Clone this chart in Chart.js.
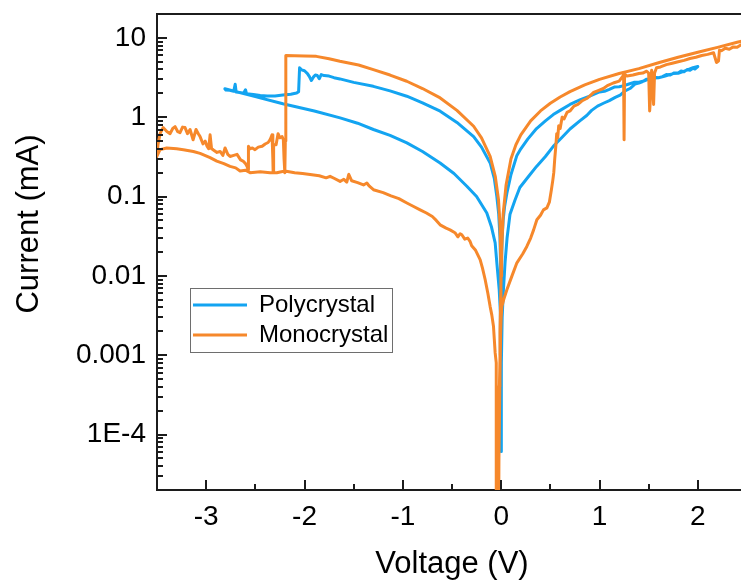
<!DOCTYPE html>
<html>
<head>
<meta charset="utf-8">
<script src="https://cdn.jsdelivr.net/npm/chart.js@4.4.0/dist/chart.umd.min.js"></script>
<style>
html,body{margin:0;padding:0;background:#fff;overflow:hidden;width:741px;height:585px;}
#wrap{position:absolute;left:0;top:0;width:760px;height:585px;}
</style>
</head>
<body>
<div id="wrap"><canvas id="c" width="760" height="585"></canvas></div>
<script>
// ---------------- data ----------------
const seriesNames = ['Polycrystal', 'Monocrystal'];
const xTitle = 'Voltage (V)';
const yTitle = 'Current (mA)';
const xTickValues = [-3, -2, -1, 0, 1, 2];
const xMinorValues = [-2.5, -1.5, -0.5, 0.5, 1.5];
const yTickValues = [1e-4, 1e-3, 1e-2, 1e-1, 1, 10];
const yTickLabels = ['1E-4', '0.001', '0.01', '0.1', '1', '10'];

// Polycrystal: voltage (V) and current (mA), in sweep order
const polyV = [
  0.000, 0.000, 0.001, 0.004, 0.010, 0.020, 0.035, 0.058, 0.10, 0.16, 0.20, 0.27, 0.36, 0.45, 0.53, 0.60, 0.70, 0.80, 0.90,
  1.00, 1.05, 1.10, 1.15, 1.20, 1.25, 1.30, 1.35, 1.40, 1.45, 1.50, 1.55, 1.60, 1.65, 1.70, 1.75, 1.80, 1.85, 1.90, 1.95, 2.00,
  1.97, 1.95, 1.92, 1.89, 1.86, 1.83, 1.80, 1.76, 1.72, 1.68, 1.64, 1.60, 1.56, 1.52, 1.48, 1.44, 1.40, 1.36, 1.31, 1.26, 1.21,
  1.16, 1.10, 1.04, 0.98, 0.92, 0.87, 0.80, 0.70, 0.62, 0.53, 0.45, 0.36, 0.28, 0.19, 0.14, 0.09, 0.06, 0.04, 0.023, 0.010, 0.002, 0.000,
  -0.002, -0.008, -0.020, -0.044, -0.061, -0.100, -0.146, -0.25, -0.349, -0.48, -0.621, -0.80, -0.959, -1.13, -1.299, -1.46, -1.638,
  -1.90, -2.22, -2.50, -2.81,
  -2.80, -2.76, -2.72, -2.705, -2.695, -2.66, -2.62, -2.60, -2.59, -2.52, -2.45, -2.38, -2.30, -2.22, -2.14, -2.08, -2.06,
  -2.05, -2.03, -2.00, -1.97, -1.95, -1.93, -1.91, -1.89, -1.87, -1.85, -1.83, -1.80, -1.75, -1.70, -1.64,
  -1.50, -1.30, -1.13, -0.96, -0.80, -0.62, -0.45, -0.28, -0.20, -0.112, -0.07, -0.044, -0.025, -0.012, -0.004, -0.001, 0.000
];
const polyI = [
  6.1e-5, 3.0e-4, 0.002, 0.012, 0.030, 0.050, 0.075, 0.11, 0.19, 0.33, 0.40, 0.53, 0.72, 0.90, 1.08, 1.22, 1.45, 1.65, 1.85,
  2.08, 2.12, 2.25, 2.40, 2.42, 2.50, 2.62, 2.75, 2.76, 2.86, 3.02, 3.12, 3.15, 3.25, 3.40, 3.55, 3.58, 3.75, 3.98, 4.20, 4.35,
  4.05, 4.15, 3.90, 3.98, 3.75, 3.82, 3.60, 3.62, 3.40, 3.45, 3.25, 3.15, 3.18, 2.98, 3.02, 2.82, 2.70, 2.62, 2.30, 2.15, 1.90,
  1.78, 1.62, 1.50, 1.38, 1.22, 1.05, 0.90, 0.71, 0.56, 0.43, 0.32, 0.24, 0.18, 0.13, 0.09, 0.06, 0.03, 0.015, 0.0067, 0.003, 0.0008, 6.1e-5,
  0.001, 0.0035, 0.0067, 0.0146, 0.026, 0.042, 0.062, 0.10, 0.135, 0.195, 0.265, 0.37, 0.474, 0.59, 0.70, 0.84, 0.98,
  1.20, 1.48, 1.82, 2.28,
  2.20, 2.18, 2.12, 2.60, 2.08, 2.05, 2.00, 2.22, 1.98, 1.93, 1.88, 1.85, 1.85, 1.90, 1.95, 2.02, 2.10,
  4.19, 3.95, 3.85, 3.55, 3.25, 2.90, 3.20, 3.40, 3.35, 3.05, 3.45, 3.35, 3.30, 3.15, 3.04,
  2.75, 2.45, 2.15, 1.84, 1.52, 1.19, 0.86, 0.57, 0.42, 0.265, 0.17, 0.10, 0.06, 0.03, 0.010, 0.002, 3.0e-4
];

// Monocrystal: voltage (V) and current (mA), in sweep order
const monoV = [
  -0.030, -0.022, -0.012, -0.004, 0.000, 0.005, 0.02, 0.05, 0.10, 0.15, 0.20, 0.30, 0.40, 0.50, 0.60, 0.70, 0.85, 1.00, 1.20,
  1.40, 1.60, 1.80, 2.00, 2.20, 2.40, 2.50,
  2.50, 2.46, 2.44, 2.40, 2.36, 2.32, 2.28, 2.24, 2.22, 2.21, 2.19, 2.16, 2.10, 2.04, 1.98, 1.92, 1.86, 1.80, 1.74, 1.68, 1.62,
  1.58, 1.56, 1.55, 1.54, 1.53, 1.52, 1.51, 1.50, 1.48, 1.44, 1.40, 1.34, 1.28, 1.255, 1.25, 1.245, 1.20, 1.14, 1.08, 1.04,
  0.98, 0.94, 0.90, 0.87, 0.82, 0.78, 0.74, 0.70, 0.67, 0.64, 0.62, 0.60, 0.585, 0.575, 0.565, 0.555, 0.545, 0.535, 0.525,
  0.51, 0.49, 0.465, 0.43, 0.40, 0.363, 0.33, 0.30, 0.261, 0.22, 0.16, 0.11, 0.058, 0.025, 0.007, 0.000, -0.010, -0.020, -0.025,
  -0.045, -0.048, -0.052, -0.061, -0.070, -0.078, -0.095, -0.112, -0.135, -0.163, -0.190, -0.214, -0.26, -0.30, -0.315, -0.34,
  -0.37, -0.40, -0.417, -0.44, -0.47, -0.52, -0.56, -0.621, -0.66, -0.70, -0.76, -0.824, -0.90, -0.959, -1.04, -1.12, -1.20,
  -1.299, -1.34, -1.366, -1.40, -1.46, -1.52, -1.55, -1.57, -1.60, -1.638, -1.70, -1.74, -1.78, -1.85, -1.943, -2.02, -2.10,
  -2.20, -2.282, -2.35, -2.45, -2.553, -2.60, -2.655, -2.70, -2.757, -2.82, -2.892, -2.96, -3.062, -3.13, -3.232, -3.30,
  -3.401, -3.469, -3.503,
  -3.490, -3.469, -3.438, -3.40, -3.367, -3.34, -3.316, -3.29, -3.266, -3.24, -3.215, -3.19, -3.164, -3.133, -3.103, -3.08,
  -3.062, -3.032, -3.01, -2.991, -2.975, -2.960, -2.945, -2.930, -2.89, -2.858, -2.83, -2.808, -2.78, -2.757, -2.72, -2.686,
  -2.65, -2.625, -2.60, -2.584, -2.574, -2.570, -2.553, -2.53, -2.503, -2.47, -2.431, -2.40, -2.370, -2.35, -2.330, -2.322,
  -2.319, -2.314, -2.289, -2.269, -2.25, -2.228, -2.215, -2.208, -2.200, -2.195, -2.190,
  -2.10, -2.00, -1.88, -1.75, -1.64, -1.45, -1.30, -1.13, -0.96, -0.80, -0.62, -0.45, -0.28, -0.20, -0.112, -0.06, -0.027,
  -0.012, -0.004, -0.001, -0.010, -0.030
];
const monoI = [
  1e-5, 4e-4, 0.002, 0.006, 0.010, 0.020, 0.06, 0.14, 0.30, 0.45, 0.60, 0.90, 1.20, 1.50, 1.80, 2.10, 2.55, 3.00, 3.55,
  4.10, 4.85, 5.70, 6.60, 7.60, 8.80, 9.40,
  8.3, 7.9, 8.2, 7.6, 7.7, 7.2, 7.4, 6.9, 7.0, 5.1, 4.9, 6.5, 6.2, 6.0, 5.7, 5.5, 5.2, 5.0, 4.8, 4.6, 4.3,
  4.2, 3.6, 1.45, 3.3, 3.9, 1.9, 1.2, 3.6, 3.8, 3.6, 3.55, 3.4, 3.3, 3.5, 0.52, 3.4, 2.85, 2.7, 2.5, 2.3,
  2.15, 2.05, 1.85, 1.72, 1.6, 1.45, 1.38, 1.2, 1.15, 0.95, 1.0, 0.72, 0.78, 0.55, 0.62, 0.42, 0.30, 0.20, 0.16,
  0.12, 0.085, 0.072, 0.068, 0.058, 0.051, 0.038, 0.030, 0.0235, 0.019, 0.0146, 0.010, 0.0067, 0.0050, 0.0041, 0.003, 0.0012, 0.0003, 1e-5,
  1e-5, 0.0004, 0.0008, 0.00107, 0.0016, 0.0023, 0.0032, 0.0041, 0.0060, 0.0090, 0.0125, 0.016, 0.021, 0.024, 0.027, 0.030,
  0.029, 0.033, 0.034, 0.031, 0.035, 0.038, 0.040, 0.044, 0.050, 0.056, 0.062, 0.068, 0.076, 0.083, 0.094, 0.102, 0.112,
  0.122, 0.135, 0.148, 0.140, 0.150, 0.158, 0.19, 0.152, 0.165, 0.155, 0.170, 0.18, 0.172, 0.183, 0.19, 0.195, 0.20,
  0.21, 0.20, 0.20, 0.205, 0.20, 0.215, 0.21, 0.23, 0.24, 0.26, 0.28, 0.31, 0.35, 0.37, 0.39, 0.40,
  0.41, 0.39, 0.32,
  0.45, 0.62, 0.74, 0.66, 0.62, 0.72, 0.76, 0.66, 0.64, 0.75, 0.74, 0.62, 0.70, 0.52, 0.70, 0.62,
  0.57, 0.46, 0.50, 0.43, 0.40, 0.60, 0.40, 0.39, 0.36, 0.37, 0.33, 0.41, 0.34, 0.32, 0.33, 0.34,
  0.29, 0.28, 0.26, 0.24, 0.22, 0.43, 0.40, 0.41, 0.39, 0.42, 0.43, 0.46, 0.48, 0.52, 0.60, 0.30,
  0.21, 0.45, 0.45, 0.62, 0.55, 0.57, 0.52, 0.30, 0.20, 0.50, 5.98,
  5.95, 5.90, 5.85, 5.45, 5.07, 4.55, 3.98, 3.40, 2.84, 2.30, 1.75, 1.22, 0.77, 0.55, 0.32, 0.18, 0.091,
  0.045, 0.015, 0.004, 0.0008, 1e-5
];

// ---------------- chart ----------------
const FONT = '"Liberation Sans", Arial, sans-serif';
const BLUE = '#13a4f1';
const ORANGE = '#f6882b';
const AXIS = '#1c1c1c';

function toPoints(xs, ys) { return xs.map((v, i) => ({x: v, y: ys[i]})); }

Chart.defaults.font.family = FONT;
Chart.defaults.color = '#000';

const frameTicks = {
  id: 'frameTicks',
  afterDraw(chart) {
    const {ctx, chartArea: a, scales} = chart;
    const xs = scales.x, ys = scales.y;
    const L = Math.round(a.left), B = Math.round(a.bottom), T = Math.round(a.top);
    ctx.save();
    ctx.fillStyle = AXIS;
    // top frame line
    ctx.fillRect(L - 1, T - 1, Math.round(a.right) - L + 2, 2);
    // x ticks (pointing inward)
    xTickValues.forEach(v => { const p = Math.round(xs.getPixelForValue(v)); ctx.fillRect(p - 1, B - 10, 2, 10); });
    xMinorValues.forEach(v => { const p = Math.round(xs.getPixelForValue(v)); ctx.fillRect(p - 1, B - 6, 2, 6); });
    // y ticks (pointing inward)
    yTickValues.forEach(v => { const p = Math.round(ys.getPixelForValue(v)); ctx.fillRect(L, p - 1, 10, 2); });
    for (let d = -5; d <= 1; d++) {
      for (let k = 2; k <= 9; k++) {
        const v = k * Math.pow(10, d);
        if (v <= 2e-5 || v >= 20) continue;
        const p = Math.round(ys.getPixelForValue(v));
        ctx.fillRect(L, p - 1, 6, 2);
      }
    }
    // legend frame
    ctx.lineWidth = 1;
    ctx.strokeStyle = '#6e6e6e';
    ctx.strokeRect(190.5, 288.5, 202, 64);
    // y axis title
    ctx.fillStyle = '#000';
    ctx.font = '31px ' + FONT;
    ctx.translate(38, 224);
    ctx.rotate(-Math.PI / 2);
    ctx.textAlign = 'center';
    ctx.textBaseline = 'alphabetic';
    ctx.fillText(yTitle, 0, 0);
    ctx.restore();
  }
};

const legendPlace = {
  id: 'legendPlace',
  beforeDraw(chart) {
    const lg = chart.legend;
    if (!lg) return;
    lg.left = 187; lg.top = 287; lg.width = 220; lg.height = 130;
    lg.right = lg.left + lg.width; lg.bottom = lg.top + lg.height;
  }
};

new Chart(document.getElementById('c'), {
  type: 'scatter',
  data: {
    datasets: [
      {
        label: seriesNames[0], data: toPoints(polyV, polyI), showLine: true,
        borderColor: BLUE, backgroundColor: BLUE, pointBorderColor: BLUE, pointBackgroundColor: BLUE,
        borderWidth: 3, pointRadius: 0, pointHoverRadius: 0, pointBorderWidth: 3, tension: 0,
        borderJoinStyle: 'round', borderCapStyle: 'round', order: 2
      },
      {
        label: seriesNames[1], data: toPoints(monoV, monoI), showLine: true,
        borderColor: ORANGE, backgroundColor: ORANGE, pointBorderColor: ORANGE, pointBackgroundColor: ORANGE,
        borderWidth: 3, pointRadius: 0, pointHoverRadius: 0, pointBorderWidth: 3, tension: 0,
        borderJoinStyle: 'round', borderCapStyle: 'round', order: 1
      }
    ]
  },
  options: {
    responsive: false,
    animation: false,
    devicePixelRatio: 1,
    events: [],
    layout: { padding: { left: 0, top: 14, right: 13, bottom: 0 } },
    plugins: {
      tooltip: { enabled: false },
      legend: {
        position: 'chartArea',
        align: 'start',
        labels: {
          usePointStyle: true,
          pointStyle: 'line',
          pointStyleWidth: 54,
          padding: 6,
          color: '#000',
          font: { size: 24, family: FONT },
          sort: (a, b) => a.datasetIndex - b.datasetIndex
        }
      }
    },
    scales: {
      x: {
        type: 'linear',
        min: -3.5, max: 2.5,
        afterBuildTicks: s => { s.ticks = xTickValues.map(v => ({value: v})); },
        afterFit: s => { s.height = 95; s.paddingLeft = 0; s.paddingRight = 0; },
        grid: { display: false, drawTicks: false },
        border: { display: true, color: AXIS, width: 2 },
        ticks: { padding: 10, color: '#000', font: { size: 28, family: FONT }, maxRotation: 0, autoSkip: false,
                 callback: v => String(v) },
        title: { display: true, text: xTitle, color: '#000', font: { size: 31, family: FONT }, padding: { top: 0, bottom: 2 } }
      },
      y: {
        type: 'logarithmic',
        min: 2e-5, max: 20,
        afterBuildTicks: s => { s.ticks = yTickValues.map(v => ({value: v})); },
        afterFit: s => { s.width = 157; s.paddingTop = 0; s.paddingBottom = 0; },
        grid: { display: false, drawTicks: false },
        border: { display: true, color: AXIS, width: 2 },
        ticks: { padding: 11, color: '#000', font: { size: 28, family: FONT }, autoSkip: false,
                 callback: (v, i) => yTickLabels[i] }
      }
    }
  },
  plugins: [legendPlace, frameTicks]
});
</script>
</body>
</html>
